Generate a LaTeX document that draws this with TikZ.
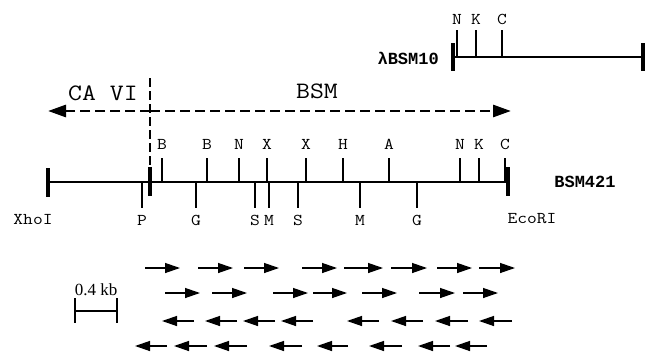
\documentclass[tikz,border=0pt]{standalone}
\usepackage{fontspec}
\setmainfont{Liberation Serif}
\newfontfamily\monof[FakeStretch=1.15]{Latin Modern Mono}
\newfontfamily\boldmono{Liberation Mono}
\usetikzlibrary{arrows.meta}
\begin{document}
\begin{tikzpicture}[x=1pt,y=-1pt,
  mapline/.style={line width=2.6pt},
  endbar/.style={line width=3.6pt},
  sitetick/.style={line width=1.3pt},
  site/.style={font=\monof\fontsize{16.5}{16.5}\selectfont, inner sep=0pt},
  bigtxt/.style={font=\monof\fontsize{23.5}{23.5}\selectfont, inner sep=0pt},
  boldlab/.style={font=\boldmono\bfseries\fontsize{17}{17}\selectfont, inner sep=0pt},
  frag/.style={line width=1.3pt, -{Triangle[length=15pt,width=10pt]}},
  region/.style={line width=2.8pt, dash pattern=on 10pt off 5pt, -{Triangle[length=18pt,width=12pt]}}]
\useasboundingbox[fill=white] (0,0) rectangle (649,354);

% lambda BSM10
\coordinate (La) at (453,57);
\coordinate (Lb) at (643,57);
\draw[mapline] (La) -- (Lb);
\draw[endbar] (453,43) -- (453,71);
\draw[endbar] (643,43) -- (643,71);
\foreach \x/\l [count=\i] in {457/N,476/K,502/C}{
  \draw[sitetick] (\x,30) -- (\x,57);
  \node[site] (lt\i) at (\x,19.5) {\l};
}
\node[boldlab, anchor=east] (lname) at (439,58) {λBSM10};

% region arrows
\coordinate (div) at (150,111);
\coordinate (ltip) at (48,111);
\coordinate (rtip) at (511,111);
\draw[region] (div) -- (ltip);
\draw[region] (div) -- (rtip);
\draw[line width=1.2pt, dash pattern=on 9pt off 4pt] (150,78) -- (150,166);
\node[bigtxt] (cavi) at (103,93.5) {CA VI};
\node[bigtxt] (bsm) at (317,91) {BSM};

% BSM421 map
\coordinate (A) at (48,182);
\coordinate (B) at (508,182);
\draw[mapline] (A) -- (B);
\draw[endbar] (48,168) -- (48,197);
\draw[endbar] (150,167) -- (150,196);
\draw[endbar] (508,167) -- (508,196);
\foreach \x/\l [count=\i] in {162/B,207/B,239/N,267/X,306/X,343/H,389/A,460/N,479/K,505/C}{
  \draw[sitetick] (\x,158) -- (\x,182);
  \node[site] (ta\i) at (\x,144.5) {\l};
}
\foreach \x/\l [count=\i] in {142/P,196/G,255/S,269/M,298/S,360/M,417/G}{
  \draw[sitetick] (\x,182) -- (\x,208);
  \node[site] (tb\i) at (\x,220) {\l};
}
\node[site] (xho) at (33,220) {XhoI};
\node[site] (eco) at (532,219) {EcoRI};
\node[boldlab] (bname) at (585,182) {BSM421};

% scale bar
\draw[line width=1.3pt] (75,311) -- (117,311);
\draw[line width=1.3pt] (75,298) -- (75,323);
\draw[line width=1.3pt] (117,298) -- (117,323);
\node[font=\fontsize{17}{17}\selectfont, inner sep=0pt] (scl) at (96,290) {0.4 kb};

% sequenced fragments
\foreach \a/\b in {145/180,198/233,244/279,302/337,344/383,391/427,437/472,479/515}
  \draw[frag] (\a,268) -- (\b,268);
\foreach \a/\b in {165/200,212/247,273/308,313/347,362/397,419/455,463/498}
  \draw[frag] (\a,293) -- (\b,293);
\foreach \a/\b in {162/194,205/237,243/275,281/313,347/379,391/423,435/468,479/512}
  \draw[frag] (\b,321) -- (\a,321);
\foreach \a/\b in {135/167,174/207,214/247,269/302,317/348,369/402,418/450,455/487}
  \draw[frag] (\b,346) -- (\a,346);
\end{tikzpicture}
\end{document}
